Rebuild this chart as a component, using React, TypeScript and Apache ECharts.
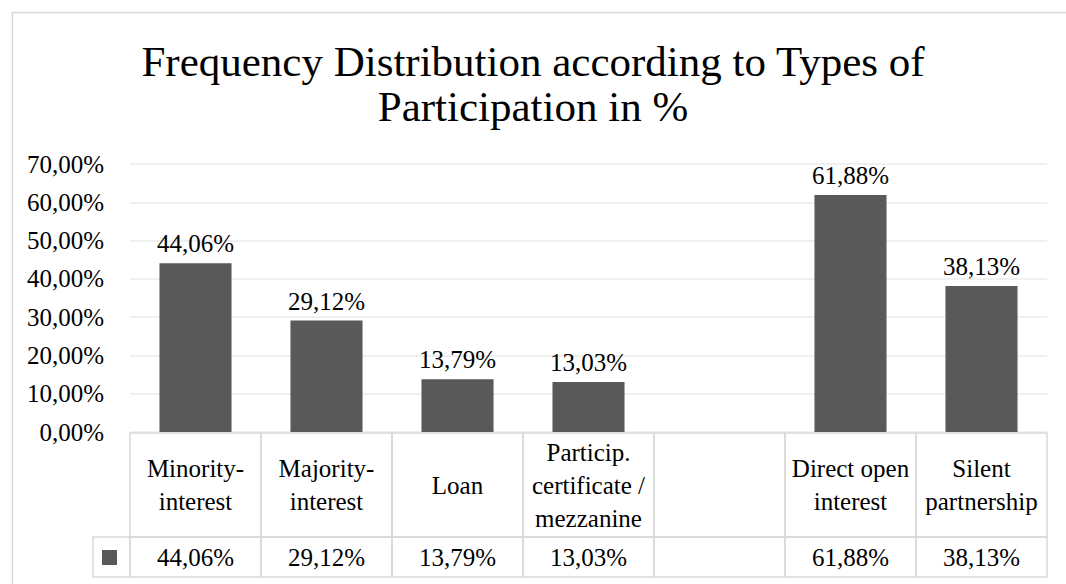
import React, { useEffect, useRef } from "react";
import * as echarts from "echarts";

const titleText = "Frequency Distribution according to Types of\nParticipation in %";
const categories = [
  "Minority-\ninterest",
  "Majority-\ninterest",
  "Loan",
  "Particip.\ncertificate /\nmezzanine",
  "",
  "Direct open\ninterest",
  "Silent\npartnership",
];
const values: (number | null)[] = [44.06, 29.12, 13.79, 13.03, null, 61.88, 38.13];
const yMin = 0;
const yMax = 70;
const yStep = 10;

const FONT = "Liberation Serif";
const LABEL_SIZE = 25;
const fmt = (v: number | null) => (v == null ? "" : v.toFixed(2).replace(".", ",") + "%");

export default function App() {
  const ref = useRef<HTMLDivElement>(null);
  useEffect(() => {
    if (!ref.current) return;
    const chart = echarts.init(ref.current, null, { renderer: "svg" });
    const HEADER_H = 104;
    const ROW_H = 40;
    const LEG_W = 37;
    const border = "#d9d9d9";
    const cellFont = `${LABEL_SIZE}px "Liberation Serif", serif`;
    chart.setOption({
      animation: false,
      backgroundColor: "#fff",
      graphic: [
        {
          type: "rect",
          left: 10,
          top: 10,
          shape: { x: 0, y: 0, width: 1080, height: 600 },
          style: { fill: "none", stroke: border, lineWidth: 1.5 },
          silent: true,
          z: -10,
        },
      ],
      title: {
        text: titleText,
        left: "center",
        top: 34,
        textStyle: {
          fontFamily: FONT,
          fontSize: 43,
          fontWeight: "normal",
          lineHeight: 45,
          color: "#000",
        },
      },
      grid: { left: 130, right: 19, top: 164, bottom: 152, containLabel: false },
      xAxis: {
        type: "category",
        data: categories,
        axisLine: { show: false },
        axisTick: { show: false },
        axisLabel: { show: false },
        splitLine: { show: false },
      },
      yAxis: {
        type: "value",
        min: yMin,
        max: yMax,
        interval: yStep,
        axisLine: { show: false },
        axisTick: { show: false },
        axisLabel: {
          formatter: (v: number) => fmt(v),
          fontFamily: FONT,
          fontSize: LABEL_SIZE,
          color: "#000",
          margin: 26,
        },
        splitLine: { lineStyle: { color: "#ebebeb", width: 1.5 } },
      },
      series: [
        {
          type: "bar",
          data: values,
          barWidth: "55%",
          itemStyle: { color: "#595959" },
          label: {
            show: true,
            position: "top",
            distance: 7,
            formatter: (p: any) => fmt(p.value),
            fontFamily: FONT,
            fontSize: LABEL_SIZE,
            color: "#000",
          },
        },
        {
          type: "custom",
          clip: false,
          z: 5,
          data: categories.map((_, i) => [i, 0]),
          encode: { x: 0, y: 1 },
          renderItem: (params: any, api: any) => {
            const i = api.value(0);
            const [cx, baseY] = api.coord([i, 0]);
            const w = api.size([1, 0])[0];
            const x0 = cx - w / 2;
            const top = baseY + 1;
            const children: any[] = [
              {
                type: "rect",
                shape: { x: x0, y: top, width: w, height: HEADER_H },
                style: { fill: "none", stroke: border, lineWidth: 1.5 },
              },
              {
                type: "text",
                x: cx,
                y: top + HEADER_H / 2,
                style: {
                  text: categories[i],
                  align: "center",
                  verticalAlign: "middle",
                  font: cellFont,
                  fontFamily: FONT,
                  fontSize: LABEL_SIZE,
                  lineHeight: 33,
                  fill: "#000",
                },
              },
              {
                type: "rect",
                shape: { x: x0, y: top + HEADER_H, width: w, height: ROW_H },
                style: { fill: "none", stroke: border, lineWidth: 1.5 },
              },
              {
                type: "text",
                x: cx,
                y: top + HEADER_H + ROW_H / 2,
                style: {
                  text: fmt(values[i]),
                  align: "center",
                  verticalAlign: "middle",
                  font: cellFont,
                  fontFamily: FONT,
                  fontSize: LABEL_SIZE,
                  fill: "#000",
                },
              },
            ];
            if (i === 0) {
              children.push(
                {
                  type: "rect",
                  shape: { x: x0 - LEG_W, y: top + HEADER_H, width: LEG_W, height: ROW_H },
                  style: { fill: "none", stroke: border, lineWidth: 1.5 },
                },
                {
                  type: "rect",
                  shape: { x: x0 - LEG_W + 9, y: top + HEADER_H + 13, width: 15, height: 15 },
                  style: { fill: "#595959" },
                }
              );
            }
            return { type: "group", children };
          },
        },
      ],
    });
    return () => chart.dispose();
  }, []);
  return <div ref={ref} style={{ width: 1066, height: 584, position: "absolute", left: 0, top: 0 }} />;
}
